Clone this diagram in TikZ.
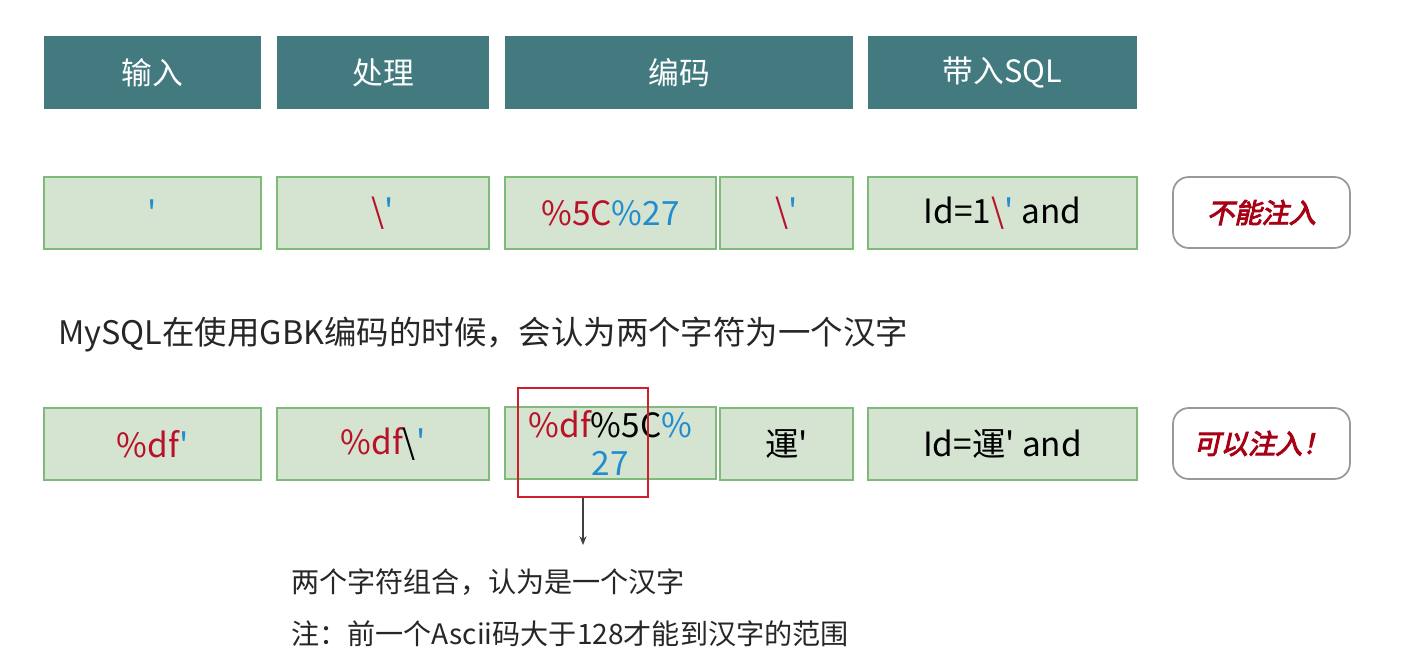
\documentclass[tikz,border=0pt]{standalone}
\usepackage{fontspec}
\usepackage{tikz}
\usetikzlibrary{arrows.meta,positioning}
\setmainfont{Noto Sans CJK SC}[Ligatures=TeXOff]
\newfontfamily\verdictfont[FakeSlant=0.22,FakeBold=3.5,Ligatures=TeXOff]{Noto Sans CJK SC}
\definecolor{hdrTeal}  {RGB}{66, 122, 128}
\definecolor{cellFill} {RGB}{212, 228, 209}
\definecolor{cellEdge} {RGB}{128, 186, 122}
\definecolor{txtRed}   {RGB}{185, 18, 40}
\definecolor{txtBlue}  {RGB}{34, 140, 205}
\definecolor{frameRed} {RGB}{204, 32, 44}
\definecolor{verdRed}  {RGB}{168, 0, 20}
\newcommand{\rd}[1]{\textcolor{txtRed}{#1}}
\newcommand{\bl}[1]{\textcolor{txtBlue}{#1}}
\newcommand{\bs}{\textbackslash}
\tikzset{
  hdr/.style={fill=hdrTeal,draw=none,text=white,minimum height=1.46cm,
    inner sep=0pt,font=\fontsize{17.5}{21}\selectfont},
  cell/.style={fill=cellFill,draw=cellEdge,line width=1.2pt,minimum height=1.44cm,
    inner sep=0pt,font=\fontsize{19}{23}\selectfont},
  verdict/.style={draw=gray!80,line width=1pt,rounded corners=9pt,fill=white,
    minimum width=3.54cm,minimum height=1.42cm,text=verdRed,
    font=\verdictfont\fontsize{15.5}{18}\selectfont},
  note/.style={anchor=west,inner sep=0pt,text=black!85}
}
\begin{document}
\begin{tikzpicture}[x=0.02cm,y=-0.02cm]
  \useasboundingbox (0,0) rectangle (1401,663);

  % Kopfzeile
  \node[hdr,minimum width=4.34cm] (hIn)  at (152.5,72.5) {输入};
  \node[hdr,minimum width=4.24cm] (hPro) at (383,72.5)   {处理};
  \node[hdr,minimum width=6.96cm] (hEnc) at (679,72.5)   {编码};
  \node[hdr,minimum width=5.38cm] (hSql) at (1002.5,72.5){带入SQL};

  % Fall 1: normales Anfuehrungszeichen
  \node[cell,minimum width=4.34cm] (aIn)  at (152.5,213) {\bl{'}};
  \node[cell,minimum width=4.24cm] (aPro) at (383,213)   {\rd{\bs}\bl{'}};
  \node[cell,minimum width=4.22cm] (aEnc) at (610.5,213) {\rd{\%5C}\bl{\%27}};
  \node[cell,minimum width=2.66cm] (aDec) at (786.5,213) {\rd{\bs}\bl{'}};
  \node[cell,minimum width=5.38cm] (aSql) at (1002.5,213){Id=1\rd{\bs}\bl{'} and};
  \node[verdict] (aRes) at (1261.5,212.5) {不能注入};

  \node[note,font=\fontsize{18.45}{22}\selectfont] (gbk) at (58,335)
    {MySQL在使用GBK编码的时候，会认为两个字符为一个汉字};

  % Fall 2: mit %df davor
  \node[cell,minimum width=4.34cm] (bIn)  at (152.5,444) {\rd{\%df}\bl{'}};
  \node[cell,minimum width=4.24cm] (bPro) at (383,444)   {\rd{\%df}\bs\bl{'}};
  \node[cell,minimum width=4.22cm,align=center,
        font=\fontsize{19}{22}\selectfont] (bEnc) at (610.5,443)
    {\rd{\%df}\%5C\bl{\%}\\\bl{27}};
  \node[cell,minimum width=2.66cm] (bDec) at (786.5,444) {運'};
  \node[cell,minimum width=5.38cm] (bSql) at (1002.5,444){Id=運' and};
  \node[verdict] (bRes) at (1261.5,443.5) {可以注入！};

  % Markierung der zwei Bytes
  \node[draw=frameRed,line width=1.6pt,minimum width=2.6cm,minimum height=2.18cm,
        inner sep=0pt] (pair) at (583,442.5) {};
  \coordinate (tip) at (583,545);
  \draw[-{Stealth[length=5pt,width=4pt]},black!75,line width=0.6pt] (pair.south) -- (tip);

  \node[note,font=\fontsize{16}{19}\selectfont] (n1) at (291,582)
    {两个字符组合，认为是一个汉字};
  \node[note,font=\fontsize{16}{19}\selectfont] (n2) at (291,634)
    {注：前一个Ascii码大于128才能到汉字的范围};
\end{tikzpicture}
\end{document}
